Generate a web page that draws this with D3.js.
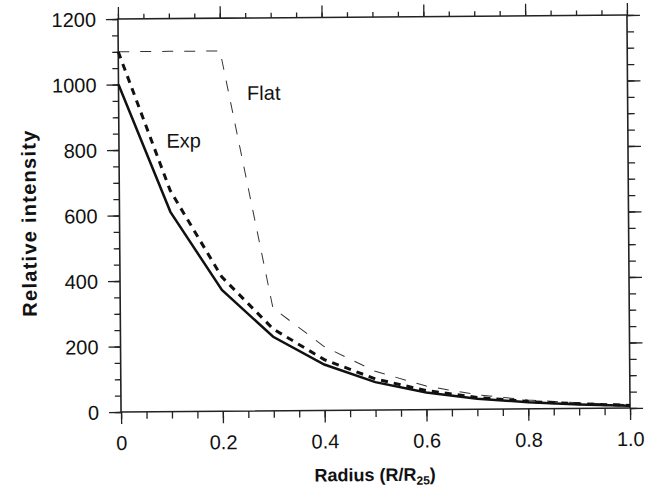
<!DOCTYPE html>
<html>
<head>
<meta charset="utf-8">
<script src="https://cdnjs.cloudflare.com/ajax/libs/d3/7.8.5/d3.min.js"></script>
<style>
  body { margin: 0; background: #fff; }
  svg { display: block; font-family: "Liberation Sans", Arial, Helvetica, sans-serif; }
  .tick text { font-size: 20px; fill: #111; }
</style>
</head>
<body>
<div id="chart"></div>
<script>
// Values (radius in R/R25, intensity)
var radius = [0, 0.1, 0.2, 0.3, 0.4, 0.5, 0.6, 0.7, 0.8, 0.9, 1.0];
var expSolid = [1000, 610, 370, 226, 140, 85, 52, 32, 20, 12, 7];
var expDashed = [1100, 675, 410, 250, 155, 95, 58, 36, 22, 14, 8];
var flatDashed = [1100, 1100, 1100, 314, 195, 118, 72, 44, 27, 17, 10];

var xMajor = [0, 0.2, 0.4, 0.6, 0.8, 1.0];
var xTickLabels = ["0", "0.2", "0.4", "0.6", "0.8", "1.0"];
var yMajor = [0, 200, 400, 600, 800, 1000, 1200];
var yTickLabels = ["0", "200", "400", "600", "800", "1000", "1200"];

var width = 647, height = 487;
// plot box (window.top is reserved, so use other names)
var boxL = 119.5, boxR = 628.5, boxT = 17, boxB = 410;

var svg = d3.select("#chart")
  .append("svg")
  .attr("width", width)
  .attr("height", height);

// the scan is a little tilted, so turn the whole drawing slightly
var g = svg.append("g")
  .attr("transform", "rotate(-0.45," + ((boxL + boxR) / 2) + "," + ((boxT + boxB) / 2) + ")");

var x = d3.scaleLinear().domain([0, 1]).range([boxL, boxR]);
var y = d3.scaleLinear().domain([0, 1200]).range([boxB, boxT]);

var xMinor = d3.range(0, 1.0001, 0.05);
var yMinor = d3.range(0, 1200.1, 50);

// helper: ticks only, no domain line
function ticks(axis, pos, vals, size, labels) {
  var a = g.append("g")
    .attr("transform", pos)
    .call(axis.tickValues(vals).tickSize(size).tickSizeOuter(0)
      .tickFormat(labels ? function(d, i) { return labels[i]; } : ""));
  a.select(".domain").remove();
  a.selectAll("line").attr("stroke", "#222").attr("stroke-width", 1.3);
  return a;
}

// minor ticks on all four sides
ticks(d3.axisBottom(x), "translate(0," + boxB + ")", xMinor, 7);
ticks(d3.axisTop(x), "translate(0," + boxT + ")", xMinor, 5);
ticks(d3.axisLeft(y), "translate(" + boxL + ",0)", yMinor, 6);
ticks(d3.axisRight(y), "translate(" + boxR + ",0)", yMinor, 7);

// major ticks with labels on bottom and left
var xa = ticks(d3.axisBottom(x), "translate(0," + boxB + ")", xMajor, 12, xTickLabels);
xa.selectAll("text").attr("y", 38).attr("dy", 0);
var ya = ticks(d3.axisLeft(y), "translate(" + boxL + ",0)", yMajor, 12, yTickLabels);
ya.selectAll("text").attr("x", -22).attr("dy", "0.35em");
ticks(d3.axisTop(x), "translate(0," + boxT + ")", xMajor, 12);
ticks(d3.axisRight(y), "translate(" + boxR + ",0)", yMajor, 13);

// frame
g.append("rect")
  .attr("x", boxL).attr("y", boxT)
  .attr("width", boxR - boxL).attr("height", boxB - boxT)
  .attr("fill", "none")
  .attr("stroke", "#222")
  .attr("stroke-width", 1.6);

var line = d3.line()
  .x(function(d, i) { return x(radius[i]); })
  .y(function(d) { return y(d); });

// flat disk model, thin dashes
g.append("path")
  .datum(flatDashed)
  .attr("d", line)
  .attr("fill", "none")
  .attr("stroke", "#333")
  .attr("stroke-width", 1)
  .attr("stroke-dasharray", "11,11");

// exponential, thick dashes
g.append("path")
  .datum(expDashed)
  .attr("d", line)
  .attr("fill", "none")
  .attr("stroke", "#111")
  .attr("stroke-width", 3)
  .attr("stroke-dasharray", "7,6");

// exponential, solid
g.append("path")
  .datum(expSolid)
  .attr("d", line)
  .attr("fill", "none")
  .attr("stroke", "#111")
  .attr("stroke-width", 2.5);

// curve labels
g.append("text").text("Exp")
  .attr("x", 167).attr("y", 146)
  .attr("font-size", 20).attr("fill", "#111");
g.append("text").text("Flat")
  .attr("x", 248).attr("y", 99)
  .attr("font-size", 20).attr("fill", "#111");

// axis titles
var xt = g.append("text")
  .attr("x", 373).attr("y", 481)
  .attr("text-anchor", "middle")
  .attr("font-size", 18).attr("font-weight", "bold").attr("fill", "#111");
xt.append("tspan").text("Radius (R/R");
xt.append("tspan").text("25").attr("font-size", 12).attr("dy", 4);
xt.append("tspan").text(")").attr("dy", -4);

g.append("text")
  .text("Relative intensity")
  .attr("transform", "translate(36,221) rotate(-90)")
  .attr("text-anchor", "middle")
  .attr("textLength", 186)
  .attr("lengthAdjust", "spacing")
  .attr("font-size", 20).attr("font-weight", "bold").attr("fill", "#111");
</script>
</body>
</html>
